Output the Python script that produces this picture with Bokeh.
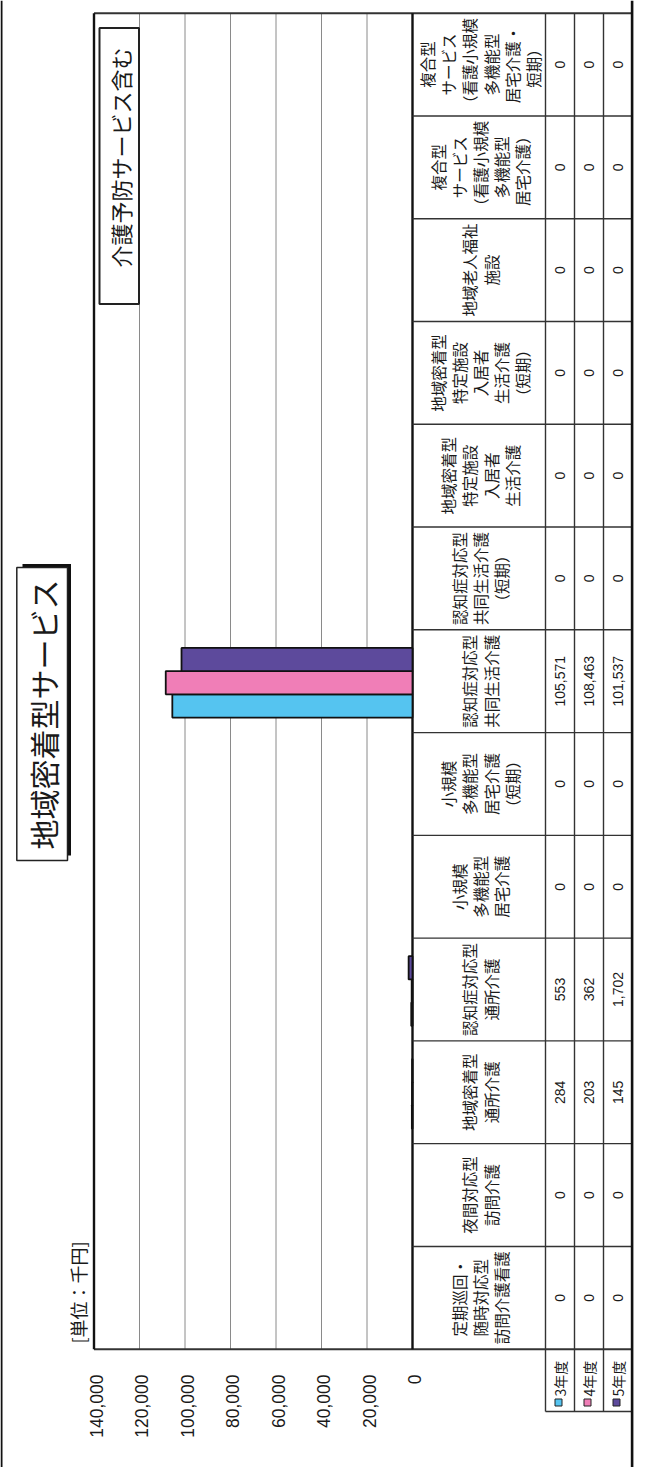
import math
from bokeh.plotting import figure
from bokeh.models import Range1d, ColumnDataSource, CDSView, BooleanFilter
from bokeh.core.properties import value
from bokeh.embed import file_html
from bokeh.resources import INLINE

# ---------------- data ----------------
# categories listed from the bottom of the (rotated) page to the top
categories = [
    "定期巡回・\n随時対応型\n訪問介護看護",
    "夜間対応型\n訪問介護",
    "地域密着型\n通所介護",
    "認知症対応型\n通所介護",
    "小規模\n多機能型\n居宅介護",
    "小規模\n多機能型\n居宅介護\n（短期）",
    "認知症対応型\n共同生活介護",
    "認知症対応型\n共同生活介護\n（短期）",
    "地域密着型\n特定施設\n入居者\n生活介護",
    "地域密着型\n特定施設\n入居者\n生活介護\n（短期）",
    "地域老人福祉\n施設",
    "複合型\nサービス\n（看護小規模\n多機能型\n居宅介護）",
    "複合型\nサービス\n（看護小規模\n多機能型\n居宅介護・\n短期）",
]
years = ["3年度", "4年度", "5年度"]
values_r3 = [0, 0, 284, 553, 0, 0, 105571, 0, 0, 0, 0, 0, 0]
values_r4 = [0, 0, 203, 362, 0, 0, 108463, 0, 0, 0, 0, 0, 0]
values_r5 = [0, 0, 145, 1702, 0, 0, 101537, 0, 0, 0, 0, 0, 0]
tick_values = [0, 20000, 40000, 60000, 80000, 100000, 120000, 140000]
tick_labels = ["0", "20,000", "40,000", "60,000", "80,000", "100,000", "120,000", "140,000"]
title_text = "地域密着型サービス"
subtitle_text = "介護予防サービス含む"
unit_text = "[単位：千円]"

series = [values_r3, values_r4, values_r5]
colors = ["#55C4F0", "#F07EB7", "#5D4A9C"]

# ---------------- layout constants (page pixels) ----------------
W, H = 637, 1467
X_LO, X_HI = 8, 8 + W
Y_LO, Y_HI = 8, 8 + H

ZERO_PX = 420.0            # page x of value 0
PX_PER_VAL = 45.5 / 20000  # page px per value unit (value grows to the left)
CAT_BOTTOM_PX = 1356.7     # page y of the bottom of the category band
CAT_PX = 102.77            # page px per category
n = len(categories)
PLOT_TOP_PX = CAT_BOTTOM_PX - n * CAT_PX
PLOT_LEFT_PX = ZERO_PX - max(tick_values) * PX_PER_VAL

HEADER_RIGHT = 553.0
ROW_EDGES = [553.0, 582.0, 611.0, 640.0]
ROW_CX = [(ROW_EDGES[i] + ROW_EDGES[i + 1]) / 2 for i in range(3)]
HEADER_CX = (ZERO_PX + HEADER_RIGHT) / 2 + 1
LEGEND_BOTTOM = 1419.0

FONT_JP = value("Noto Sans CJK JP")
FONT_NUM = value("Liberation Sans")
INK = "#1a1a1a"
ROT = math.pi / 2

p = figure(width=W, height=H, x_range=Range1d(X_LO, X_HI), y_range=Range1d(Y_HI, Y_LO),
           x_axis_type=None, y_axis_type=None, min_border=0, toolbar_location=None,
           output_backend="svg", outline_line_color=None, background_fill_color="white",
           border_fill_color="white")
p.extra_x_ranges = {"val": Range1d((ZERO_PX - X_LO) / PX_PER_VAL, (ZERO_PX - X_HI) / PX_PER_VAL)}
p.extra_y_ranges = {"cat": Range1d((CAT_BOTTOM_PX - Y_HI) / CAT_PX, (CAT_BOTTOM_PX - Y_LO) / CAT_PX)}

# ---------------- grid lines ----------------
grid = tick_values[1:-1]
p.segment(x0=grid, y0=[0] * len(grid), x1=grid, y1=[n] * len(grid),
          x_range_name="val", y_range_name="cat", line_color="#8a8a8a", line_width=1)

# plot frame: top / bottom lines spanning plot + table
p.segment(x0=[PLOT_LEFT_PX, PLOT_LEFT_PX], x1=[ROW_EDGES[-1]] * 2,
          y0=[PLOT_TOP_PX, CAT_BOTTOM_PX], y1=[PLOT_TOP_PX, CAT_BOTTOM_PX],
          line_color="#333333", line_width=2)
# value-axis limits: 140,000 line and zero baseline
p.segment(x0=[max(tick_values), 0], x1=[max(tick_values), 0], y0=[0, 0], y1=[n, n],
          x_range_name="val", y_range_name="cat", line_color="#111111", line_width=2.4)

# ---------------- table ----------------
bounds = list(range(1, n))
p.segment(x0=[ZERO_PX] * len(bounds), x1=[ROW_EDGES[-1]] * len(bounds), y0=bounds, y1=bounds,
          y_range_name="cat", line_color="#333333", line_width=1.4)
p.segment(x0=ROW_EDGES[:3], x1=ROW_EDGES[:3], y0=[PLOT_TOP_PX] * 3, y1=[LEGEND_BOTTOM] * 3,
          line_color="#333333", line_width=1.4)
p.segment(x0=[ROW_EDGES[0]], x1=[ROW_EDGES[-1]], y0=[LEGEND_BOTTOM], y1=[LEGEND_BOTTOM],
          line_color="#333333", line_width=1.4)
# outer page border
p.segment(x0=[9.0, 639.6], x1=[9.0, 639.6], y0=[Y_LO, Y_LO], y1=[Y_HI, Y_HI],
          line_color="#111111", line_width=[2.0, 2.6])

p.text(x=[HEADER_CX] * n, y=[i + 0.5 for i in range(n)], text=categories, y_range_name="cat",
       angle=ROT, text_font=FONT_JP, text_font_size="15.5px", text_align="center",
       text_baseline="middle", text_line_height=0.96, text_color=INK)

for j, vals in enumerate(series):
    p.text(x=[ROW_CX[j]] * n, y=[i + 0.5 for i in range(n)], text=[f"{v:,}" for v in vals],
           y_range_name="cat", angle=ROT, text_font=FONT_NUM, text_font_size="14px",
           text_align="center", text_baseline="middle", text_color=INK)

# legend cells
p.scatter(x=[c - 1.5 for c in ROW_CX], y=[1410] * 3, marker="square", size=7,
          fill_color=colors, line_color="#222222", line_width=1)
p.text(x=ROW_CX, y=[1404] * 3, text=years, angle=ROT, text_font=FONT_JP, text_font_size="14px",
       text_align="left", text_baseline="middle", text_color=INK)

# ---------------- bars ----------------
offsets = [-0.241, -0.015, 0.211]
for j, vals in enumerate(series):
    src = ColumnDataSource(dict(y=[i + 0.5 + offsets[j] for i in range(n)], v=vals))
    view = CDSView(filter=BooleanFilter([v > 0 for v in vals]))
    p.hbar(y="y", left=0, right="v", height=0.226, source=src, view=view,
           x_range_name="val", y_range_name="cat", fill_color=colors[j],
           line_color="#111111", line_width=1.8)

# ---------------- value tick labels ----------------
p.text(x=tick_values, y=[1382] * len(tick_values), text=tick_labels, x_range_name="val",
       angle=ROT, x_offset=2, text_font=FONT_NUM, text_font_size="17.5px",
       text_align="right", text_baseline="middle", text_color=INK)

# ---------------- title boxes ----------------
p.quad(left=[30.0], right=[78.5], top=[571.5], bottom=[863.0], fill_color="#111111", line_color=None)
p.quad(left=[24.3], right=[75.0], top=[575.0], bottom=[868.0], fill_color="white",
       line_color="#222222", line_width=1.5)
p.text(x=[50.0], y=[722.0], text=[title_text], angle=ROT, text_font=FONT_JP,
       text_font_size="30px", text_align="center", text_baseline="middle", text_color=INK)

p.quad(left=[107.0], right=[146.5], top=[35.5], bottom=[311.5], fill_color="white",
       line_color="#222222", line_width=2)
p.text(x=[127.0], y=[165.0], text=[subtitle_text], angle=ROT, text_font=FONT_JP,
       text_font_size="22px", text_align="center", text_baseline="middle", text_color=INK)

p.text(x=[85.0], y=[1300.0], text=[unit_text], angle=ROT, text_font=FONT_JP,
       text_font_size="18px", text_align="center", text_baseline="middle", text_color=INK)

open("out.html", "w").write(file_html(p, INLINE))
